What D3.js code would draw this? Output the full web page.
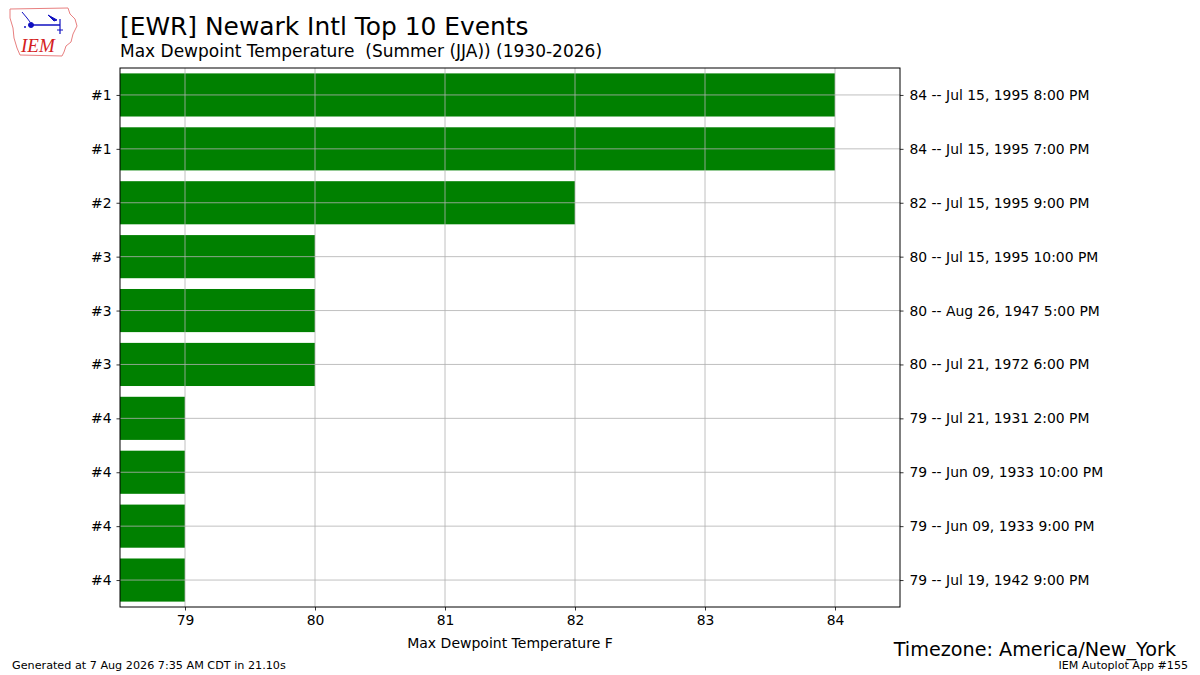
<!DOCTYPE html>
<html><head><meta charset="utf-8">
<script src="https://cdn.jsdelivr.net/npm/d3@7"></script>
<style>
body{margin:0;background:#fff;}
</style></head>
<body><svg id="c" width="1200" height="675" style="font-family:'DejaVu Sans',sans-serif"></svg>
<script>
const ranks = ["#1","#1","#2","#3","#3","#3","#4","#4","#4","#4"];
const values = [84,84,82,80,80,80,79,79,79,79];
const eventLabels = ["84 -- Jul 15, 1995 8:00 PM","84 -- Jul 15, 1995 7:00 PM","82 -- Jul 15, 1995 9:00 PM","80 -- Jul 15, 1995 10:00 PM","80 -- Aug 26, 1947 5:00 PM","80 -- Jul 21, 1972 6:00 PM","79 -- Jul 21, 1931 2:00 PM","79 -- Jun 09, 1933 10:00 PM","79 -- Jun 09, 1933 9:00 PM","79 -- Jul 19, 1942 9:00 PM"];
const xTicks = [79,80,81,82,83,84];
const xDomain = [78.5,84.5];

const svg = d3.select("#c");
const L=120,R=900,T=68,B=607;
const x = d3.scaleLinear().domain(xDomain).range([L,R]);
const y = d3.scaleLinear().domain([-0.5,9.5]).range([T,B]);
const idx = d3.range(values.length);

// bars
svg.append("g").selectAll("rect").data(idx).join("rect")
  .attr("x",L).attr("y",i=>y(i-0.4))
  .attr("width",i=>x(values[i])-L).attr("height",i=>y(i+0.4)-y(i-0.4))
  .attr("fill","#008000");

// grid
const g = svg.append("g").attr("stroke","#b0b0b0").attr("stroke-width",0.8);
g.selectAll("line.v").data(xTicks).join("line").attr("class","v")
  .attr("x1",d=>x(d)).attr("x2",d=>x(d)).attr("y1",T).attr("y2",B);
g.selectAll("line.h").data(idx).join("line").attr("class","h")
  .attr("x1",L).attr("x2",R).attr("y1",i=>y(i)).attr("y2",i=>y(i));

// axes
const xAxis = d3.axisBottom(x).tickValues(xTicks).tickSize(3.5).tickPadding(5).tickFormat(d3.format("d"));
const gx = svg.append("g").attr("transform",`translate(0,${B})`).call(xAxis);
const yLeft = d3.axisLeft(y).tickValues(idx).tickSize(3.5).tickPadding(5).tickFormat(i=>ranks[i]);
const gy = svg.append("g").attr("transform",`translate(${L},0)`).call(yLeft);
const yRight = d3.axisRight(y).tickValues(idx).tickSize(3.5).tickPadding(6).tickFormat(i=>eventLabels[i]);
const gr = svg.append("g").attr("transform",`translate(${R},0)`).call(yRight);
[gx,gy,gr].forEach(a=>{a.select(".domain").remove();a.selectAll("text").attr("font-size",13.9).attr("fill","#000").attr("font-family","DejaVu Sans");a.selectAll(".tick line").attr("stroke","#000").attr("stroke-width",0.8);});
svg.append("rect").attr("x",L).attr("y",T).attr("width",R-L).attr("height",B-T).attr("fill","none").attr("stroke","#000").attr("stroke-width",1);

// titles
svg.append("text").attr("x",120).attr("y",35).attr("font-size",24.9).text("[EWR] Newark Intl Top 10 Events");
svg.append("text").attr("x",120).attr("y",57).attr("font-size",17).attr("xml:space","preserve").text("Max Dewpoint Temperature  (Summer (JJA)) (1930-2026)");
svg.append("text").attr("x",510).attr("y",648).attr("text-anchor","middle").attr("font-size",14).text("Max Dewpoint Temperature F");
svg.append("text").attr("x",1176).attr("y",656).attr("text-anchor","end").attr("font-size",19.2).text("Timezone: America/New_York");
svg.append("text").attr("x",12).attr("y",669).attr("font-size",11.2).text("Generated at 7 Aug 2026 7:35 AM CDT in 21.10s");
svg.append("text").attr("x",1188).attr("y",669).attr("text-anchor","end").attr("font-size",11.1).text("IEM Autoplot App #155");

// logo
const lg = svg.append("g");
lg.append("path").attr("d","M10,9 L68,8 L70,14 L75,19 L77,26 L73,34 L71,42 L66,46 L64,52 L62,56 L20,55 L17,48 L14,38 L13,28 L10,18 Z")
  .attr("fill","none").attr("stroke","#e88080").attr("stroke-width",1);
lg.append("text").attr("x",21).attr("y",52).style("font-family","'Liberation Serif',serif").style("font-style","italic").attr("font-size",19).attr("fill","#d42020").text("IEM");
const bl = lg.append("g").attr("stroke","#1010c0").attr("fill","#1010c0");
bl.append("line").attr("x1",31).attr("y1",25).attr("x2",60).attr("y2",25).attr("stroke-width",1.5);
bl.append("circle").attr("cx",31).attr("cy",25).attr("r",2.5);
bl.append("path").attr("d","M22,12 L27,18 L30,22").attr("fill","none").attr("stroke-width",1);
bl.append("path").attr("d","M48,15 L57,20 L54,21 Z").attr("stroke-width",1);
bl.append("line").attr("x1",60).attr("y1",19).attr("x2",60).attr("y2",34).attr("stroke-width",1.2);
bl.append("line").attr("x1",57).attr("y1",30).attr("x2",63).attr("y2",30).attr("stroke-width",1);
bl.append("circle").attr("cx",25).attr("cy",27).attr("r",1).attr("stroke","none");
</script></body></html>
